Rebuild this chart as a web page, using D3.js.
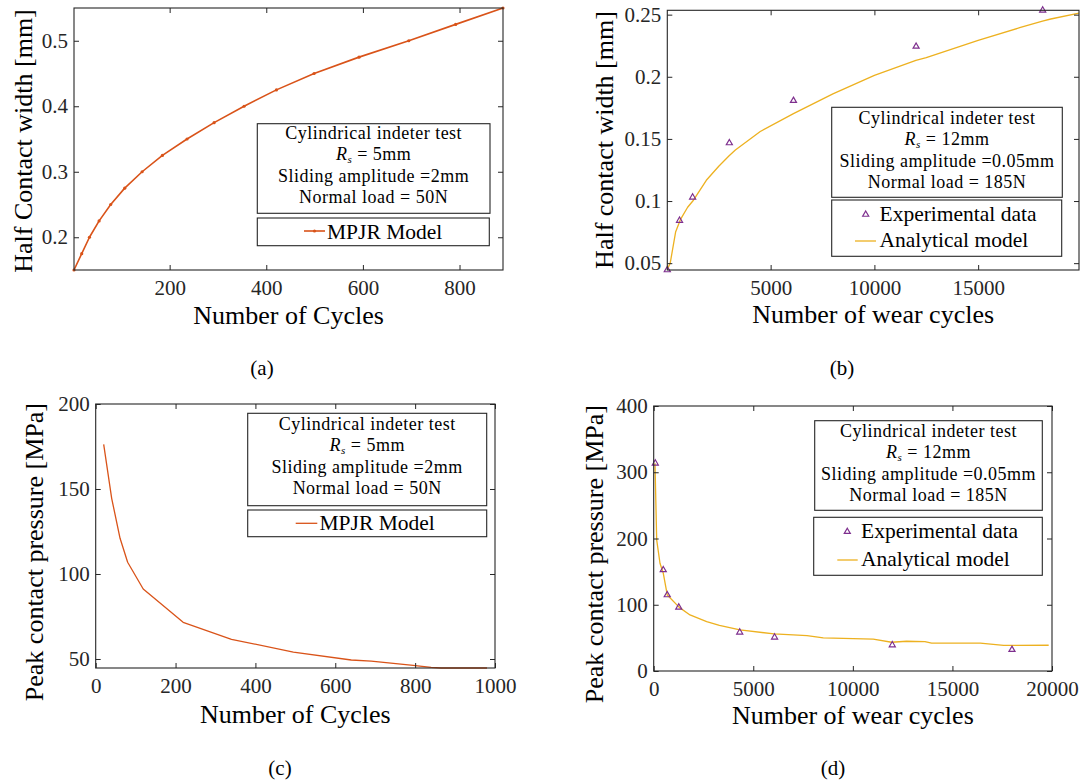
<!DOCTYPE html>
<html>
<head>
<meta charset="utf-8">
<script src="https://cdn.jsdelivr.net/npm/d3@7"></script>
<style>
  html, body { margin: 0; padding: 0; background: #fff; }
  svg { display: block; }
  text { font-family: "Liberation Serif", "Times New Roman", serif; }
</style>
</head>
<body>
<svg id="fig" width="1088" height="784"></svg>
<script>
// ---- (a) MPJR model: half contact width vs cycles ----
const cyclesA = [2, 18, 34, 54, 78, 107, 143, 185, 236, 292, 354, 421, 499, 592, 695, 792, 890];
const halfWidthA = [0.15, 0.175, 0.2, 0.225, 0.25, 0.275, 0.3, 0.325, 0.35, 0.375, 0.4, 0.425, 0.45, 0.475, 0.5, 0.525, 0.55];
const xTicksA = [200, 400, 600, 800];
const yTicksA = [0.2, 0.3, 0.4, 0.5];

// ---- (b) wear test: half contact width ----
const expCyclesB = [20, 610, 1240, 3010, 6100, 12010, 18110];
const expWidthB = [0.0445, 0.0843, 0.103, 0.1467, 0.1808, 0.2244, 0.2535];
const modelCyclesB = [30, 160, 420, 650, 1000, 1250, 1900, 2500, 3000, 3300, 4500, 6100, 8000, 10000, 12000, 12500, 15000, 17000, 18100, 18500, 19860];
const modelWidthB = [0.0455, 0.05, 0.075, 0.085, 0.095, 0.1, 0.1167, 0.128, 0.1365, 0.141, 0.156, 0.1703, 0.1862, 0.2011, 0.2132, 0.2155, 0.2293, 0.2395, 0.2448, 0.2465, 0.2512];
const xTicksB = [5000, 10000, 15000];
const yTicksB = [0.05, 0.1, 0.15, 0.2, 0.25];

// ---- (c) MPJR model: peak contact pressure ----
const cyclesC = [20, 40, 61, 80, 119, 219, 340, 495, 640, 690, 795, 840, 865, 980];
const pressureC = [176.3, 144.5, 121, 106.9, 91.2, 71.6, 61.6, 54.1, 49.4, 48.8, 46.3, 45.1, 44.7, 44.7];
const xTicksC = [0, 200, 400, 600, 800, 1000];
const yTicksC = [50, 100, 150, 200];

// ---- (d) wear test: peak contact pressure ----
const expCyclesD = [80, 480, 680, 1260, 4320, 6070, 11980, 17990];
const expPressureD = [313.5, 152.5, 114.7, 96.1, 58.4, 50.9, 39.2, 32.2];
const modelCyclesD = [65, 150, 316, 482, 683, 1285, 1822, 2660, 3300, 4332, 6040, 7000, 7700, 8514, 11024, 11946, 12700, 13620, 13955, 16400, 17571, 19833];
const modelPressureD = [313.5, 198, 162.6, 147.5, 114.7, 96, 84.6, 74.6, 69, 62, 56, 54.5, 53.5, 50, 48, 43.4, 44.9, 44.4, 42, 42, 38.7, 38.9];
const xTicksD = [0, 5000, 10000, 15000, 20000];
const yTicksD = [0, 100, 200, 300, 400];

const ORANGE = "#D95319";
const YELLOW = "#EDB120";
const PURPLE = "#7E2F8E";
const AXIS = "#262626";

const svg = d3.select("#fig");

function zip(xs, ys) { return xs.map((x, i) => ({x, y: ys[i]})); }

function panel(opt) {
  const g = svg.append("g");
  const x = d3.scaleLinear().domain(opt.xDomain).range([opt.left, opt.right]);
  const y = d3.scaleLinear().domain(opt.yDomain).range([opt.bottom, opt.top]);

  // series
  opt.series.forEach(s => {
    const pts = zip(s.xs, s.ys);
    if (s.line) {
      g.append("path")
        .datum(pts)
        .attr("fill", "none")
        .attr("stroke", s.color)
        .attr("stroke-width", s.width)
        .attr("stroke-linejoin", "round")
        .attr("d", d3.line().x(d => x(d.x)).y(d => y(d.y)));
    }
    if (s.dots) {
      g.selectAll(null).data(pts).join("circle")
        .attr("cx", d => x(d.x)).attr("cy", d => y(d.y))
        .attr("r", 1.6).attr("fill", s.color);
    }
    if (s.triangles) {
      g.selectAll(null).data(pts).join("path")
        .attr("transform", d => `translate(${x(d.x)},${y(d.y)})`)
        .attr("d", d3.symbol(d3.symbolTriangle, 16)())
        .attr("fill", "none").attr("stroke", s.color).attr("stroke-width", 1.2);
    }
  });

  // axes with inward ticks on all four sides
  const fmt = opt.fmt || (d => d);
  const styleAxis = a => {
    a.attr("font-family", "Liberation Serif, serif").attr("font-size", 21);
    a.select(".domain").remove();
    a.selectAll(".tick line").attr("stroke", AXIS);
    a.selectAll(".tick text").attr("fill", AXIS);
  };
  g.append("g").attr("transform", `translate(0,${opt.bottom})`)
    .call(d3.axisBottom(x).tickValues(opt.xTicks).tickSize(-5).tickPadding(10).tickFormat(fmt))
    .call(styleAxis);
  g.append("g").attr("transform", `translate(0,${opt.top})`)
    .call(d3.axisTop(x).tickValues(opt.xTicks).tickSize(-5).tickFormat(""))
    .call(styleAxis);
  g.append("g").attr("transform", `translate(${opt.left},0)`)
    .call(d3.axisLeft(y).tickValues(opt.yTicks).tickSize(-5).tickPadding(6).tickFormat(fmt))
    .call(styleAxis);
  g.append("g").attr("transform", `translate(${opt.right},0)`)
    .call(d3.axisRight(y).tickValues(opt.yTicks).tickSize(-5).tickFormat(""))
    .call(styleAxis);

  g.append("rect")
    .attr("x", opt.left).attr("y", opt.top)
    .attr("width", opt.right - opt.left).attr("height", opt.bottom - opt.top)
    .attr("fill", "none").attr("stroke", AXIS).attr("stroke-width", 1.1);

  // axis titles
  g.append("text")
    .attr("x", (opt.left + opt.right) / 2).attr("y", opt.xLabelY)
    .attr("text-anchor", "middle").attr("font-size", 26).attr("fill", "#000")
    .text(opt.xLabel);
  g.append("text")
    .attr("transform", `translate(${opt.yLabelX},${opt.yLabelPos}) rotate(-90)`)
    .attr("text-anchor", opt.yLabelAnchor).attr("font-size", 26).attr("fill", "#000")
    .text(opt.yLabel);

  // caption
  g.append("text")
    .attr("x", opt.capX).attr("y", opt.capY)
    .attr("text-anchor", "middle").attr("font-size", 21).attr("fill", "#000")
    .text(opt.caption);

  // annotation box with test conditions
  const b = opt.note;
  g.append("rect").attr("x", b.x0).attr("y", b.y0)
    .attr("width", b.x1 - b.x0).attr("height", b.y1 - b.y0)
    .attr("fill", "#fff").attr("stroke", AXIS).attr("stroke-width", 1.1);
  const cx = (b.x0 + b.x1) / 2;
  const lines = b.lines;
  const noteText = (yy) => g.append("text").attr("x", cx).attr("y", yy)
    .attr("text-anchor", "middle").attr("font-size", 18).attr("letter-spacing", 0.5);
  noteText(b.base[0]).text(lines[0]);
  const rs = noteText(b.base[1]);
  rs.append("tspan").attr("font-style", "italic").text("R");
  rs.append("tspan").attr("font-style", "italic").attr("font-size", 11).attr("dy", 2.5).text("s");
  rs.append("tspan").attr("dy", -2.5).text(lines[1]);
  noteText(b.base[2]).text(lines[2]);
  noteText(b.base[3]).text(lines[3]);

  // legend box
  const L = opt.legend;
  g.append("rect").attr("x", L.x0).attr("y", L.y0)
    .attr("width", L.x1 - L.x0).attr("height", L.y1 - L.y0)
    .attr("fill", "#fff").attr("stroke", AXIS).attr("stroke-width", 1.1);
  L.items.forEach(it => {
    if (it.kind === "line" || it.kind === "linedot") {
      g.append("line").attr("x1", it.sx0).attr("x2", it.sx1)
        .attr("y1", it.sy).attr("y2", it.sy)
        .attr("stroke", it.color).attr("stroke-width", it.width);
      if (it.kind === "linedot") {
        g.append("circle").attr("cx", (it.sx0 + it.sx1) / 2).attr("cy", it.sy)
          .attr("r", 1.6).attr("fill", it.color);
      }
    } else if (it.kind === "tri") {
      g.append("path").attr("transform", `translate(${it.sx},${it.sy})`)
        .attr("d", d3.symbol(d3.symbolTriangle, 16)())
        .attr("fill", "none").attr("stroke", it.color).attr("stroke-width", 1.2);
    }
    g.append("text").attr("x", it.tx).attr("y", it.ty)
      .attr("font-size", 21.5).text(it.label);
  });
}

// (a)
panel({
  left: 74, right: 503, top: 8, bottom: 270,
  xDomain: d3.extent(cyclesA), yDomain: d3.extent(halfWidthA),
  xTicks: xTicksA, yTicks: yTicksA,
  series: [{xs: cyclesA, ys: halfWidthA, line: true, dots: true, color: ORANGE, width: 1.6}],
  xLabel: "Number of Cycles", xLabelY: 324,
  yLabel: "Half Contact width [mm]", yLabelX: 32, yLabelPos: 141, yLabelAnchor: "middle",
  caption: "(a)", capX: 262, capY: 375,
  note: {x0: 257.3, x1: 490, y0: 123.7, y1: 213.3, base: [139, 160.3, 181.6, 202.9],
         lines: ["Cylindrical indeter test", " = 5mm", "Sliding amplitude =2mm", "Normal load = 50N"]},
  legend: {x0: 257.3, x1: 489.3, y0: 218, y1: 245.7,
           items: [{kind: "linedot", sx0: 304, sx1: 325, sy: 231, color: ORANGE, width: 1.6,
                    tx: 327, ty: 238.5, label: "MPJR Model"}]}
});

// (b)
panel({
  left: 667.3, right: 1079, top: 10.3, bottom: 270,
  xDomain: [d3.min(expCyclesB), d3.max(modelCyclesB)],
  yDomain: [d3.min(expWidthB), d3.max(expWidthB)],
  xTicks: xTicksB, yTicks: yTicksB,
  series: [
    {xs: modelCyclesB, ys: modelWidthB, line: true, color: YELLOW, width: 1.3},
    {xs: expCyclesB, ys: expWidthB, triangles: true, color: PURPLE}
  ],
  xLabel: "Number of wear cycles", xLabelY: 323,
  yLabel: "Half contact width [mm]", yLabelX: 613, yLabelPos: 140, yLabelAnchor: "middle",
  caption: "(b)", capX: 842, capY: 375,
  note: {x0: 831.7, x1: 1062.3, y0: 107.3, y1: 197.3, base: [124, 145.3, 166.6, 187.9],
         lines: ["Cylindrical indeter test", " = 12mm", "Sliding amplitude =0.05mm", "Normal load = 185N"]},
  legend: {x0: 831.7, x1: 1061.7, y0: 200, y1: 256.3,
           items: [
             {kind: "tri", sx: 865.7, sy: 214.5, color: PURPLE, tx: 879.5, ty: 220.5, label: "Experimental data"},
             {kind: "line", sx0: 855, sx1: 876, sy: 241, color: YELLOW, width: 1.3, tx: 879.5, ty: 247, label: "Analytical model"}
           ]}
});

// (c)
panel({
  left: 95.7, right: 495, top: 404, bottom: 668,
  xDomain: [xTicksC[0], xTicksC[xTicksC.length - 1]],
  yDomain: [d3.min(pressureC), yTicksC[yTicksC.length - 1]],
  xTicks: xTicksC, yTicks: yTicksC,
  series: [{xs: cyclesC, ys: pressureC, line: true, color: ORANGE, width: 1.3}],
  xLabel: "Number of Cycles", xLabelY: 723,
  yLabel: "Peak contact pressure [MPa]", yLabelX: 43, yLabelPos: 403, yLabelAnchor: "end",
  caption: "(c)", capX: 280, capY: 775,
  note: {x0: 247.7, x1: 486.7, y0: 413.3, y1: 505.7, base: [430, 451.3, 472.6, 493.9],
         lines: ["Cylindrical indeter test", " = 5mm", "Sliding amplitude =2mm", "Normal load = 50N"]},
  legend: {x0: 247.7, x1: 486.7, y0: 510, y1: 536.7,
           items: [{kind: "line", sx0: 295.7, sx1: 317.3, sy: 523.3, color: ORANGE, width: 1.3,
                    tx: 319.5, ty: 530, label: "MPJR Model"}]}
});

// (d)
panel({
  left: 653.7, right: 1052, top: 406, bottom: 671,
  xDomain: [xTicksD[0], xTicksD[xTicksD.length - 1]],
  yDomain: [yTicksD[0], yTicksD[yTicksD.length - 1]],
  xTicks: xTicksD, yTicks: yTicksD,
  series: [
    {xs: modelCyclesD, ys: modelPressureD, line: true, color: YELLOW, width: 1.3},
    {xs: expCyclesD, ys: expPressureD, triangles: true, color: PURPLE}
  ],
  xLabel: "Number of wear cycles", xLabelY: 724,
  yLabel: "Peak contact pressure [MPa]", yLabelX: 603, yLabelPos: 405, yLabelAnchor: "end",
  caption: "(d)", capX: 833, capY: 775,
  note: {x0: 814.7, x1: 1042.3, y0: 420.7, y1: 510.3, base: [437, 458.3, 479.6, 500.9],
         lines: ["Cylindrical indeter test", " = 12mm", "Sliding amplitude =0.05mm", "Normal load = 185N"]},
  legend: {x0: 813.7, x1: 1042.3, y0: 517.3, y1: 575.3,
           items: [
             {kind: "tri", sx: 847.3, sy: 531.7, color: PURPLE, tx: 861, ty: 538, label: "Experimental data"},
             {kind: "line", sx0: 837.3, sx1: 857.7, sy: 560, color: YELLOW, width: 1.3, tx: 861, ty: 566, label: "Analytical model"}
           ]}
});
</script>
</body>
</html>
